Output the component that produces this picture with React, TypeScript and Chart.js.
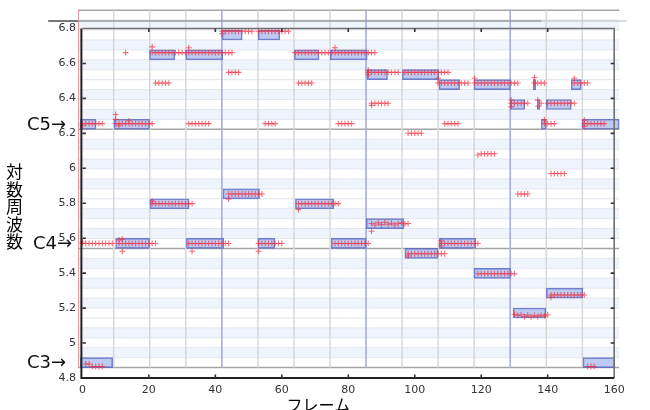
import React, { useEffect, useRef } from 'react';
import { Chart, registerables } from 'chart.js';

Chart.register(...registerables);

// ---- axis ticks ----
const xTickValues = [0, 20, 40, 60, 80, 100, 120, 140, 160];
const xTickLabels = ['0', '20', '40', '60', '80', '100', '120', '140', '160'];
const yTickValues = [4.8, 5, 5.2, 5.4, 5.6, 5.8, 6, 6.2, 6.4, 6.6, 6.8];
const yTickLabels = ['4.8', '5', '5.2', '5.4', '5.6', '5.8', '6', '6.2', '6.4', '6.6', '6.8'];

// ---- note boxes (frame start, frame end, log frequency) ----
const noteStarts = [-0.6, 9.5, 138.1, 150.4, 20.2, 31.1, 63.8, 74.6, 42.0, 52.9, 85.7, 96.3, 107.3, 117.8, 135.6, 147.1, 128.8, 136.9, 139.6, 20.4, 64.1, 42.3, 10.0, 31.3, 52.8, 74.9, 107.4, 85.4, 97.0, 117.8, 129.6, 139.6, -0.6, 150.6];
const noteEnds = [4.1, 20.2, 139.6, 161.5, 27.8, 42.2, 71.2, 85.7, 48.1, 59.4, 91.8, 107.3, 113.5, 128.8, 136.4, 150.1, 133.1, 137.6, 147.1, 32.1, 75.6, 53.3, 20.2, 42.5, 57.9, 85.4, 118.4, 96.7, 107.0, 128.8, 139.4, 150.6, 9.1, 160.2];
const noteValues = [6.252, 6.252, 6.252, 6.252, 6.649, 6.649, 6.649, 6.649, 6.763, 6.763, 6.536, 6.536, 6.479, 6.479, 6.479, 6.479, 6.365, 6.365, 6.365, 5.797, 5.797, 5.854, 5.570, 5.570, 5.570, 5.570, 5.570, 5.683, 5.513, 5.399, 5.172, 5.286, 4.888, 4.888];

// ---- detected pitch points (frames per pitch level) ----
const framesA5 = [42, 43, 44, 45, 46, 47, 48, 49, 50, 51, 53, 54, 55, 56, 57, 58, 59, 60, 61, 62];
const pitchA5 = 6.784;
const framesG5 = [13, 21, 22, 23, 24, 25, 26, 27, 28, 29, 30, 31, 32, 33, 34, 35, 36, 37, 38, 39, 40, 41, 42, 43, 44, 45, 64, 65, 66, 67, 68, 69, 70, 71, 72, 73, 74, 75, 76, 77, 78, 79, 80, 81, 82, 83, 84, 85, 86, 87, 88];
const pitchG5 = 6.662;
const framesF5 = [44, 45, 46, 47, 86, 87, 88, 89, 90, 91, 92, 93, 94, 95, 97, 98, 99, 100, 101, 102, 103, 104, 105, 106, 107, 108, 109, 110];
const pitchF5 = 6.549;
const framesE5 = [22, 23, 24, 25, 26, 65, 66, 67, 68, 69, 107, 108, 109, 110, 111, 112, 113, 114, 115, 116, 118, 119, 120, 121, 122, 123, 124, 125, 126, 127, 128, 129, 130, 131, 136, 137, 138, 139, 148, 149, 150, 151, 152];
const pitchE5 = 6.488;
const framesD5 = [87, 88, 89, 90, 91, 92, 129, 130, 131, 132, 133, 134, 138, 140, 141, 142, 143, 144, 145, 146, 147, 148];
const pitchD5 = 6.372;
const framesC5 = [0, 1, 2, 3, 4, 5, 6, 10, 11, 12, 13, 14, 15, 16, 17, 18, 19, 20, 21, 32, 33, 34, 35, 36, 37, 38, 55, 56, 57, 58, 77, 78, 79, 80, 81, 109, 110, 111, 112, 113, 139, 140, 141, 142, 151, 152, 153, 154, 155, 156, 157];
const pitchC5 = 6.256;
const framesB4 = [98, 99, 100, 101, 102];
const pitchB4 = 6.201;
const framesA4 = [120, 121, 122, 123, 124];
const pitchA4 = 6.083;
const framesG4 = [141, 142, 143, 144, 145];
const pitchG4 = 5.970;
const framesF4 = [44, 45, 46, 47, 48, 49, 50, 51, 52, 53, 54, 131, 132, 133, 134];
const pitchF4 = 5.853;
const framesE4 = [21, 22, 23, 24, 25, 26, 27, 28, 29, 30, 31, 32, 33, 65, 66, 67, 68, 69, 70, 71, 72, 73, 74, 75, 76, 77];
const pitchE4 = 5.798;
const framesD4 = [87, 88, 89, 90, 91, 92, 93, 94, 95, 96, 97, 98];
const valuesD4 = [5.684, 5.676, 5.688, 5.678, 5.690, 5.680, 5.686, 5.676, 5.684, 5.688, 5.682, 5.684];
const framesC4 = [0, 1, 2, 3, 4, 5, 6, 7, 8, 9, 11, 12, 13, 14, 15, 16, 17, 18, 19, 20, 21, 22, 32, 33, 34, 35, 36, 37, 38, 39, 40, 41, 42, 43, 44, 53, 54, 55, 56, 57, 58, 59, 60, 76, 77, 78, 79, 80, 81, 82, 83, 84, 85, 86, 108, 109, 110, 111, 112, 113, 114, 115, 116, 117, 118, 119];
const pitchC4 = 5.570;
const framesB3 = [98, 99, 100, 101, 102, 103, 104, 105, 106, 107, 108, 109];
const pitchB3 = 5.511;
const framesA3 = [119, 120, 121, 122, 123, 124, 125, 126, 127, 128, 129, 130];
const pitchA3 = 5.397;
const framesF3 = [130, 131, 132, 133, 134, 135, 136, 137, 138, 139, 140];
const valuesF3 = [5.165, 5.158, 5.162, 5.152, 5.160, 5.150, 5.158, 5.152, 5.160, 5.155, 5.162];
const framesG3 = [141, 142, 143, 144, 145, 146, 147, 148, 149, 150, 151];
const pitchG3 = 5.275;
const framesC3 = [3, 4, 5, 6, 152, 153, 154];
const pitchC3 = 4.866;
const outlierFrames = [0, 10, 10, 11, 14, 139, 151, 151, 87, 129, 129, 137, 137, 107, 118, 136, 148, 86, 86, 21, 32, 76, 42, 119, 44, 21, 65, 87, 0, 11, 12, 12, 33, 53, 108, 108, 98, 141, 1, 2];
const outlierValues = [6.244, 6.308, 6.280, 6.244, 6.272, 6.277, 6.275, 6.240, 6.360, 6.391, 6.353, 6.390, 6.355, 6.515, 6.515, 6.520, 6.515, 6.562, 6.534, 6.695, 6.690, 6.690, 6.770, 6.076, 5.825, 5.812, 5.764, 5.640, 5.578, 5.590, 5.595, 5.525, 5.525, 5.525, 5.585, 5.555, 5.498, 5.262, 4.880, 4.880];

// ---- background piano-roll grid ----
const keyRowBase = 4.888;
const keyRowStep = 0.05682;
const keyRowCount = 36;
const blackKeyPattern = [0, 1, 0, 1, 0, 0, 1, 0, 1, 0, 1, 0];
const beatFrames = [9.42, 20.27, 31.11, 41.96, 52.81, 63.65, 74.5, 85.34, 96.19, 107.03, 117.88, 128.72, 139.57, 150.42];
const measureFrames = [41.96, 85.34, 128.72];
const gridEndFrame = 161.5;
const scrollLineValue = 6.843;

// ---- octave markers ----
const octaveLabels = ['C5→', 'C4→', 'C3→'];
const octaveValues = [6.252, 5.570, 4.888];

const X_MIN = -1.32;
const X_MAX = 161.75;
const Y_MIN = 4.8;
const Y_MAX = 6.914;

const backgroundPlugin = {
  id: 'pianoRollBackground',
  beforeDatasetsDraw(chart: any) {
    const { ctx, chartArea } = chart;
    const xs = chart.scales.x;
    const ys = chart.scales.y;
    const left = chartArea.left;
    const right = xs.getPixelForValue(gridEndFrame);
    const rowY = (r: number) => ys.getPixelForValue(keyRowBase + (r - 0.5) * keyRowStep);
    const top = rowY(keyRowCount);
    const bottom = rowY(0);
    ctx.save();
    ctx.fillStyle = '#ffffff';
    ctx.fillRect(left, top, right - left, bottom - top);
    for (let r = 0; r < keyRowCount; r++) {
      if (blackKeyPattern[r % 12]) {
        const yLow = rowY(r);
        const yHigh = rowY(r + 1);
        ctx.fillStyle = '#f0f4fc';
        ctx.fillRect(left, yHigh, right - left, yLow - yHigh);
      }
    }
    for (let r = 0; r <= keyRowCount; r++) {
      const yy = rowY(r);
      const octave = r % 12 === 0;
      ctx.strokeStyle = octave ? '#a6a6a6' : '#e2e7f0';
      ctx.lineWidth = octave ? 1.5 : 1;
      ctx.beginPath();
      ctx.moveTo(left, yy);
      ctx.lineTo(right, yy);
      ctx.stroke();
    }
    beatFrames.forEach((f) => {
      const isMeasure = measureFrames.includes(f);
      const xx = xs.getPixelForValue(f);
      ctx.strokeStyle = isMeasure ? '#a8acdf' : '#d8d8d8';
      ctx.lineWidth = isMeasure ? 1.6 : 1.5;
      ctx.beginPath();
      ctx.moveTo(xx, top);
      ctx.lineTo(xx, bottom);
      ctx.stroke();
    });
    // playback cursor at left edge
    ctx.strokeStyle = 'rgba(235,120,120,0.75)';
    ctx.lineWidth = 1;
    ctx.beginPath();
    ctx.moveTo(left + 0.5, top);
    ctx.lineTo(left + 0.5, bottom);
    ctx.stroke();
    // scroll bar line at top
    const sy = ys.getPixelForValue(scrollLineValue);
    ctx.lineWidth = 1.5;
    ctx.strokeStyle = '#4a4a4a';
    ctx.beginPath();
    ctx.moveTo(xs.getPixelForValue(-10.3), sy);
    ctx.lineTo(left, sy);
    ctx.stroke();
    ctx.strokeStyle = '#9a9a9a';
    ctx.beginPath();
    ctx.moveTo(left, sy);
    ctx.lineTo(xs.getPixelForValue(138), sy);
    ctx.stroke();
    ctx.strokeStyle = '#cfcfcf';
    ctx.beginPath();
    ctx.moveTo(xs.getPixelForValue(138), sy);
    ctx.lineTo(xs.getPixelForValue(163.9), sy);
    ctx.stroke();
    ctx.restore();
  },
};

const framePlugin = {
  id: 'plotFrame',
  afterDatasetsDraw(chart: any) {
    const { ctx } = chart;
    const xs = chart.scales.x;
    const ys = chart.scales.y;
    const x0 = xs.getPixelForValue(xTickValues[0]);
    const x1 = xs.getPixelForValue(xTickValues[xTickValues.length - 1]);
    const yB = ys.getPixelForValue(yTickValues[0]);
    const yT = ys.getPixelForValue(yTickValues[yTickValues.length - 1]);
    ctx.save();
    ctx.lineCap = 'butt';
    ctx.strokeStyle = '#707070';
    ctx.lineWidth = 1.6;
    ctx.beginPath();
    ctx.moveTo(x0, yT);
    ctx.lineTo(x1, yT);
    ctx.lineTo(x1, yB);
    ctx.stroke();
    ctx.strokeStyle = '#222222';
    ctx.lineWidth = 2;
    ctx.beginPath();
    ctx.moveTo(x0 - 1, yT);
    ctx.lineTo(x0 - 1, yB);
    ctx.lineTo(x1, yB);
    ctx.stroke();
    ctx.strokeStyle = '#333333';
    ctx.lineWidth = 1.6;
    yTickValues.slice(1, -1).forEach((v) => {
      const yy = ys.getPixelForValue(v);
      ctx.beginPath();
      ctx.moveTo(x0, yy);
      ctx.lineTo(x0 + 3.5, yy);
      ctx.moveTo(x1, yy);
      ctx.lineTo(x1 - 3.5, yy);
      ctx.stroke();
    });
    xTickValues.slice(1, -1).forEach((v) => {
      const xx = xs.getPixelForValue(v);
      ctx.beginPath();
      ctx.moveTo(xx, yB);
      ctx.lineTo(xx, yB - 3.5);
      ctx.moveTo(xx, yT);
      ctx.lineTo(xx, yT + 3.5);
      ctx.stroke();
    });
    ctx.restore();
  },
  afterDraw(chart: any) {
    const { ctx } = chart;
    const ys = chart.scales.y;
    ctx.save();
    ctx.fillStyle = '#111111';
    ctx.textBaseline = 'middle';
    ctx.textAlign = 'left';
    ctx.font = '18px "DejaVu Sans", sans-serif';
    const labelLeft = [27, 33, 27];
    octaveLabels.forEach((t, i) => {
      ctx.fillText(t, labelLeft[i], ys.getPixelForValue(octaveValues[i]) + 1);
    });
    ctx.fillStyle = '#000000';
    ctx.textAlign = 'center';
    ctx.font = '17px "Noto Sans CJK JP", sans-serif';
    const yTitle = '対数周波数';
    Array.from(yTitle).forEach((ch, i) => {
      ctx.fillText(ch, 14.5, 171.5 + i * 17.6);
    });
    ctx.font = '16px "Noto Sans CJK JP", sans-serif';
    ctx.fillText('フレーム', 318.5, 404.5);
    ctx.restore();
  },
};

export default function App() {
  const canvasRef = useRef<HTMLCanvasElement | null>(null);

  useEffect(() => {
    const canvas = canvasRef.current;
    if (!canvas) return;

    const crossPoints: { x: number; y: number }[] = [];
    const addLevel = (frames: number[], value: number) => {
      frames.forEach((f) => crossPoints.push({ x: f, y: value }));
    };
    addLevel(framesA5, pitchA5);
    addLevel(framesG5, pitchG5);
    addLevel(framesF5, pitchF5);
    addLevel(framesE5, pitchE5);
    addLevel(framesD5, pitchD5);
    addLevel(framesC5, pitchC5);
    addLevel(framesB4, pitchB4);
    addLevel(framesA4, pitchA4);
    addLevel(framesG4, pitchG4);
    addLevel(framesF4, pitchF4);
    addLevel(framesE4, pitchE4);
    framesD4.forEach((f, i) => crossPoints.push({ x: f, y: valuesD4[i] }));
    addLevel(framesC4, pitchC4);
    addLevel(framesB3, pitchB3);
    addLevel(framesA3, pitchA3);
    framesF3.forEach((f, i) => crossPoints.push({ x: f, y: valuesF3[i] }));
    addLevel(framesG3, pitchG3);
    addLevel(framesC3, pitchC3);
    outlierFrames.forEach((f, i) => crossPoints.push({ x: f, y: outlierValues[i] }));

    const noteBars = noteStarts.map((s, i) => ({ x: [s, noteEnds[i]], y: noteValues[i] }));

    const chart = new Chart(canvas, {
      type: 'scatter',
      data: {
        datasets: [
          {
            type: 'scatter',
            label: 'pitch',
            data: crossPoints,
            pointStyle: 'cross',
            pointRadius: 2.9,
            pointBorderWidth: 1.1,
            pointBorderColor: 'rgba(240,45,65,0.7)',
            pointBackgroundColor: 'rgba(240,45,65,0.7)',
            showLine: false,
            order: 1,
          } as any,
          {
            type: 'bar',
            label: 'notes',
            indexAxis: 'y',
            data: noteBars as any,
            barThickness: 10,
            backgroundColor: 'rgba(135,160,228,0.55)',
            borderColor: 'rgba(92,102,190,0.85)',
            borderWidth: 1,
            borderSkipped: false,
            grouped: false,
            order: 2,
          } as any,
        ],
      },
      options: {
        animation: false,
        responsive: false,
        events: [],
        layout: { padding: { left: 8, top: 8, right: 30, bottom: 0 } },
        plugins: {
          legend: { display: false },
          tooltip: { enabled: false },
        },
        scales: {
          x: {
            type: 'linear',
            min: X_MIN,
            max: X_MAX,
            offset: false,
            grid: { display: false, drawTicks: false, tickLength: 0, offset: false },
            border: { display: false },
            afterBuildTicks: (scale: any) => {
              scale.ticks = xTickValues.map((value) => ({ value }));
            },
            afterFit: (scale: any) => {
              scale.height = 32;
            },
            ticks: {
              autoSkip: false,
              maxRotation: 0,
              padding: 6,
              color: '#333333',
              font: { family: '"DejaVu Sans", sans-serif', size: 11 },
              callback: (_v: any, index: number) => xTickLabels[index],
            },
          },
          y: {
            type: 'linear',
            min: Y_MIN,
            max: Y_MAX,
            offset: false,
            grid: { display: false, drawTicks: false, tickLength: 0, offset: false },
            border: { display: false },
            afterBuildTicks: (scale: any) => {
              scale.ticks = yTickValues.map((value) => ({ value }));
            },
            afterFit: (scale: any) => {
              scale.width = 70;
            },
            ticks: {
              autoSkip: false,
              padding: 2,
              color: '#333333',
              font: { family: '"DejaVu Sans", sans-serif', size: 11 },
              callback: (_v: any, index: number) => yTickLabels[index],
            },
          },
        },
      } as any,
      plugins: [backgroundPlugin, framePlugin],
    });

    return () => {
      chart.destroy();
    };
  }, []);

  return (
    <div style={{ position: 'fixed', left: 0, top: 0, width: 650, height: 410, background: '#ffffff' }}>
      <canvas ref={canvasRef} width={650} height={410} style={{ display: 'block', width: 650, height: 410 }} />
    </div>
  );
}
